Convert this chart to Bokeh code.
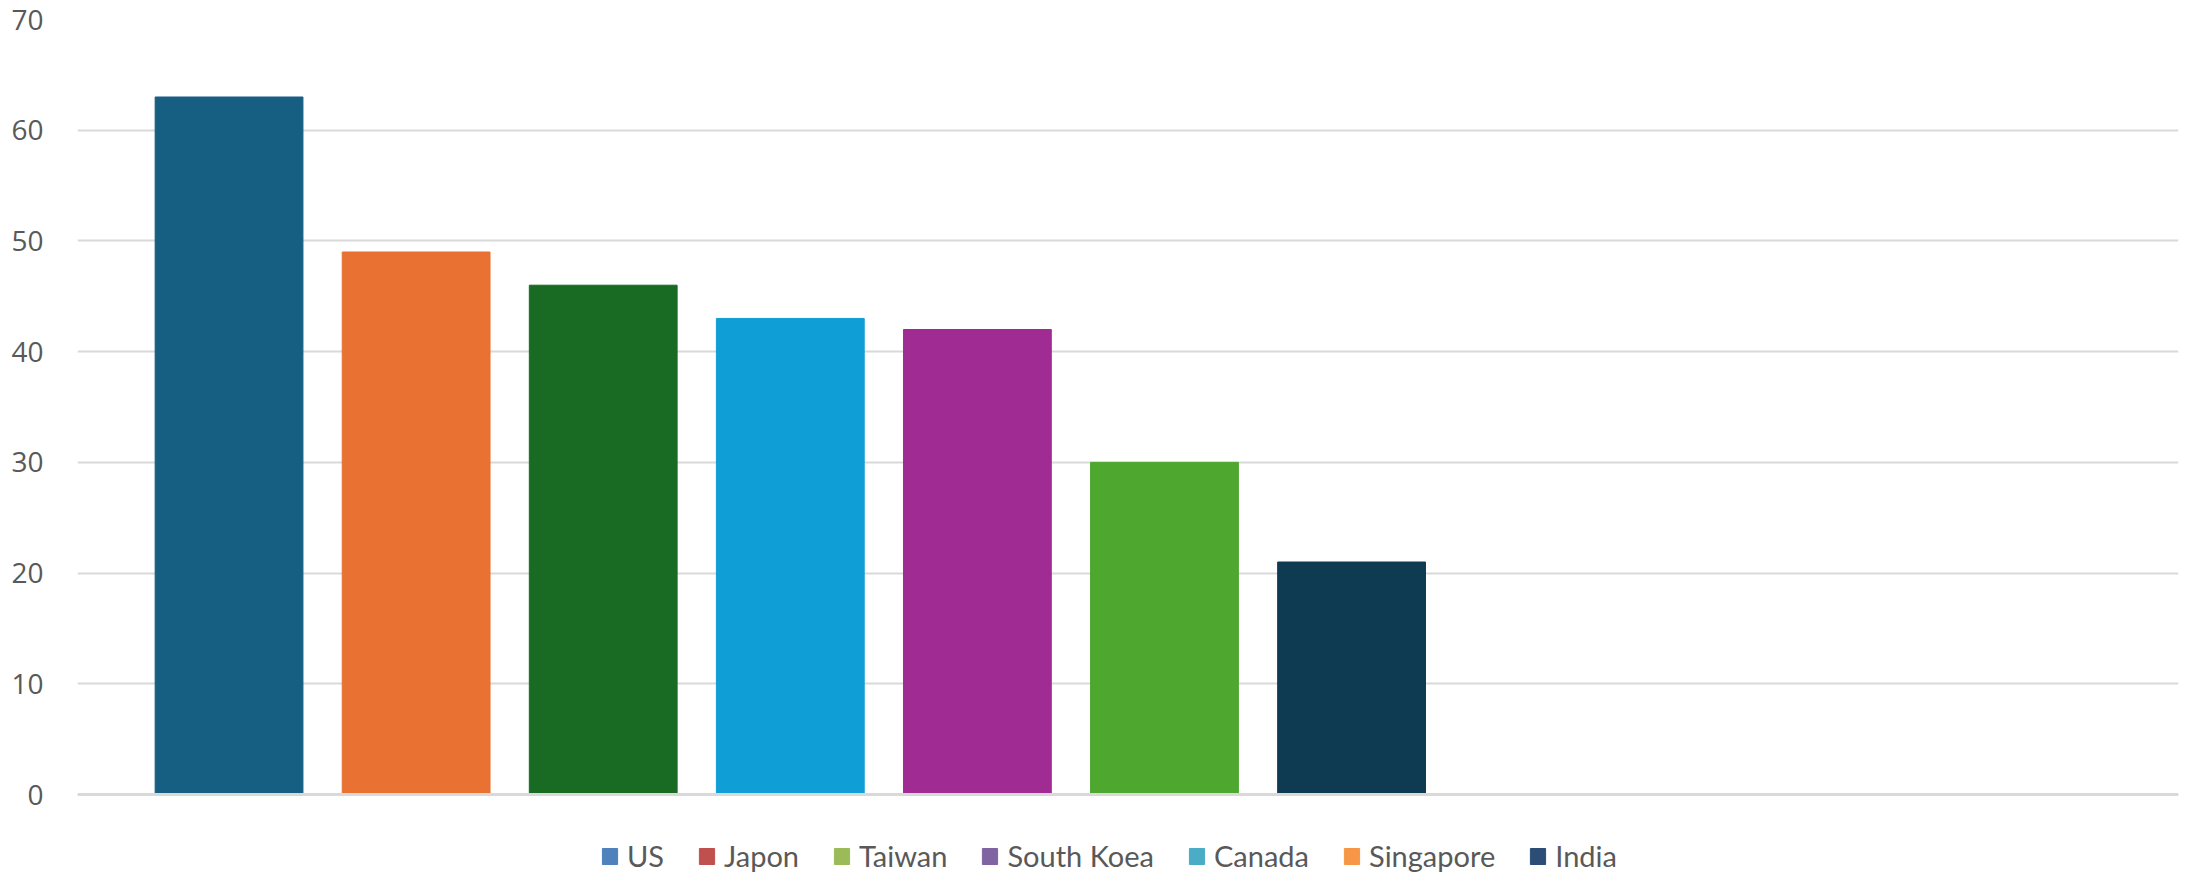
from bokeh.plotting import figure
from bokeh.models import ColumnDataSource, Legend, LegendItem, FixedTicker, Span, Range1d
from bokeh.embed import file_html
from bokeh.resources import INLINE

# Bar data (draw order left to right)
values = [63, 49, 46, 43, 42, 30, 21]
bar_colors = ["#175F82", "#E97132", "#196B24", "#0F9ED5", "#A02B93", "#4EA72E", "#0E3A52"]

# Legend entries
legend_labels = ["US", "Japon", "Taiwan", "South Koea", "Canada", "Singapore", "India"]
legend_colors = ["#4F81BD", "#C0504D", "#9BBB59", "#8064A2", "#4BACC6", "#F79646", "#2C4D75"]

y_ticks = [0, 10, 20, 30, 40, 50, 60, 70]

W, H = 2188, 874
LEFT, TOP = 77, 19
ZERO_PX = 794  # pixel row of the value axis zero line
unit = (ZERO_PX - TOP) / 70.0
y_low = -(H - ZERO_PX) / unit  # room under zero for the legend strip

p = figure(width=W, height=H, output_backend="svg", toolbar_location=None,
           x_range=Range1d(-0.81, 10.42), y_range=Range1d(y_low, 70),
           min_border_left=LEFT, min_border_right=10, min_border_top=TOP,
           min_border_bottom=0)
p.outline_line_color = None
p.background_fill_color = "white"

src = ColumnDataSource(dict(x=list(range(len(values))), top=values, color=bar_colors))
p.vbar(x="x", top="top", bottom=0, width=0.79, color="color", source=src)

# Axes and grid
p.xaxis.visible = False
p.xgrid.visible = False
p.ygrid.ticker = FixedTicker(ticks=y_ticks)
p.ygrid.grid_line_color = "#D9D9D9"
p.ygrid.grid_line_width = 2
p.yaxis.ticker = FixedTicker(ticks=y_ticks)
p.yaxis.axis_line_color = None
p.yaxis.major_tick_line_color = None
p.yaxis.minor_tick_line_color = None
p.yaxis.major_label_standoff = 28
p.yaxis.major_label_text_font = "Open Sans"
p.yaxis.major_label_text_font_size = "28px"
p.yaxis.major_label_text_color = "#595959"

p.add_layout(Span(location=0, dimension="width", line_color="#D9D9D9", line_width=3))

# Legend swatches: one off-screen square per entry
items = []
for lab, col in zip(legend_labels, legend_colors):
    r = p.rect(x=[-100], y=[-100], width=1, height=1, fill_color=col, line_color=col)
    items.append(LegendItem(label=lab, renderers=[r]))

legend = Legend(items=items, orientation="horizontal", location=(523, 1),
                label_text_font="Lato", label_text_font_size="29px",
                label_text_color="#595959", glyph_width=19, glyph_height=20,
                label_standoff=8, spacing=33, padding=0, margin=0,
                border_line_color=None, background_fill_alpha=0)
p.add_layout(legend)

open("out.html", "w").write(file_html(p, INLINE))
